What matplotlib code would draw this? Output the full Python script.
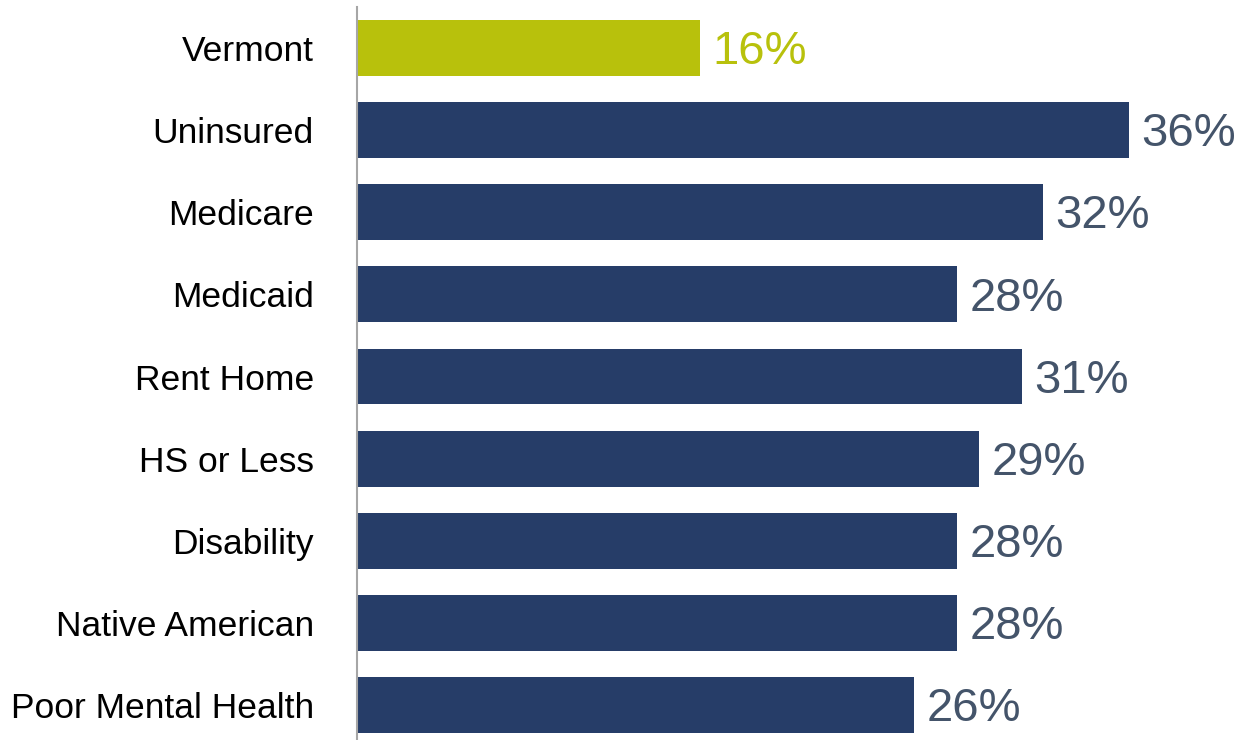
import matplotlib
matplotlib.use("Agg")
import matplotlib.pyplot as plt

categories = ["Vermont", "Uninsured", "Medicare", "Medicaid", "Rent Home",
              "HS or Less", "Disability", "Native American", "Poor Mental Health"]
values = [16, 36, 32, 28, 31, 29, 28, 28, 26]
labels = ["16%", "36%", "32%", "28%", "31%", "29%", "28%", "28%", "26%"]

green = "#B8C10C"
navy = "#263D68"
slate = "#44546A"

plt.rcParams['font.family'] = ['Liberation Sans', 'DejaVu Sans']

W, H = 1237, 740
fig = plt.figure(figsize=(W / 100, H / 100), dpi=100)
ax_left = 357 / W
ax_bottom = 0.0
ax_top = 1 - 7 / H
ax = fig.add_axes([ax_left, ax_bottom, 1 - ax_left, ax_top - ax_bottom])

px_per_unit = 21.44
ax.set_xlim(0, (W - 357) / px_per_unit)
row = 82.125
ax.set_ylim(8 + (740 - 705) / row, -(48 - 7) / row)

ypos = list(range(len(categories)))
colors = [green] + [navy] * (len(categories) - 1)
ax.barh(ypos, values, height=0.68, color=colors, edgecolor="none")

for y, v, lab, c in zip(ypos, values, labels, colors):
    tc = green if c == green else slate
    ax.annotate(lab, xy=(v, y), xytext=(9, -3), textcoords="offset points",
                va="center", ha="left", fontsize=34, color=tc)

ax.set_yticks(ypos)
ax.set_yticklabels(categories, fontsize=25.5, color="black")
ax.tick_params(axis="y", length=0, pad=31)
ax.set_xticks([])
for s in ["top", "right", "bottom"]:
    ax.spines[s].set_visible(False)
ax.spines["left"].set_color("#A6A6A6")
ax.spines["left"].set_linewidth(1.5)

fig.savefig("out.png", dpi=100)
